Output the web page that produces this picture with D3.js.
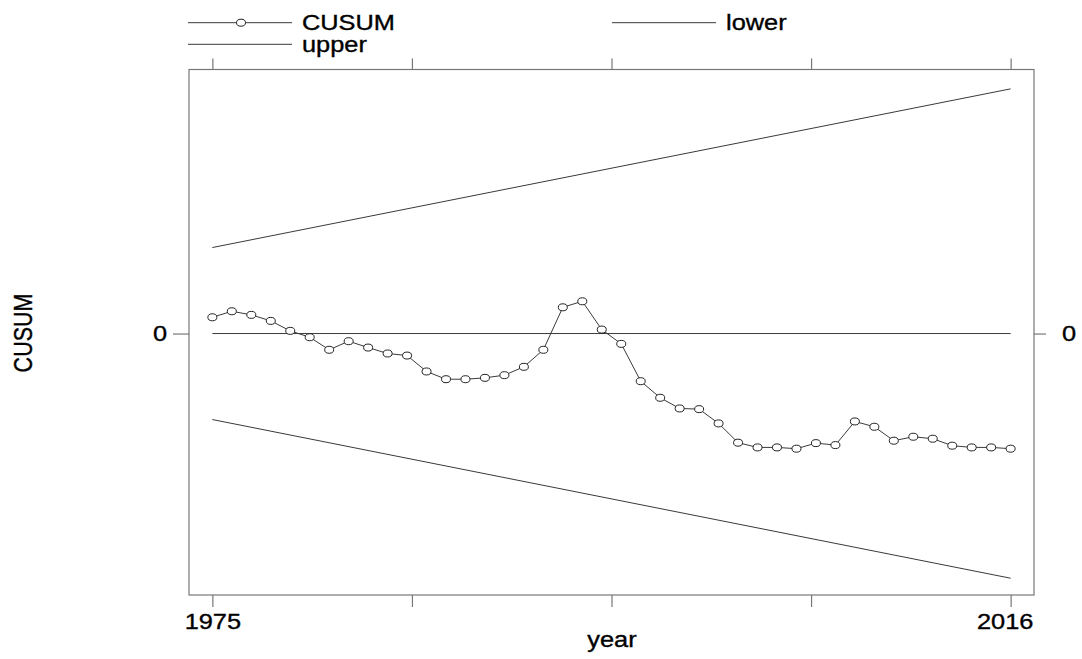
<!DOCTYPE html>
<html>
<head>
<meta charset="utf-8">
<script src="https://cdn.jsdelivr.net/npm/d3@7"></script>
<style>
  body { margin: 0; background: #fff; }
  text { font-family: "Liberation Sans", Arial, sans-serif; fill: #000; stroke: #000; stroke-width: 0.35px; }
</style>
</head>
<body>
<div id="chart"></div>
<script>
var years = d3.range(1975, 2017);
var cusum = [0.189, 0.259, 0.217, 0.147, 0.031, -0.043, -0.189, -0.089, -0.163, -0.232,
             -0.256, -0.441, -0.531, -0.531, -0.515, -0.484, -0.387, -0.189, 0.305, 0.375,
             0.046, -0.120, -0.554, -0.747, -0.871, -0.879, -1.045, -1.269, -1.324, -1.324,
             -1.339, -1.274, -1.297, -1.022, -1.084, -1.246, -1.200, -1.223, -1.304, -1.324,
             -1.324, -1.339];
var boundYears = [1975, 2016];
var upper = [1.0, 2.845];
var lower = [-1.0, -2.845];
var xTickLabels = ["1975", "", "", "", "2016"];

var width = 1082, height = 659;
var sx = 1.18; // text looks horizontally stretched in the original

var svg = d3.select("#chart").append("svg")
    .attr("width", width)
    .attr("height", height);

var x = d3.scaleLinear().domain([1973.8, 2017.2]).range([189, 1034]);
var y = d3.scaleLinear().domain([-3.04, 3.07]).range([595, 69.5]);

var lineCol = "#3a3a3a";
var boxCol = "#777";

// frame
svg.append("rect")
    .attr("x", x.range()[0])
    .attr("y", y.range()[1])
    .attr("width", x.range()[1] - x.range()[0])
    .attr("height", y.range()[0] - y.range()[1])
    .attr("fill", "none")
    .attr("stroke", boxCol)
    .attr("stroke-width", 1.2);

// ticks: 4 equal steps between first and last year
var xTicks = d3.range(5).map(i => 1975 + i * 41 / 4);

var xAxisB = d3.axisBottom(x).tickValues(xTicks).tickSize(12).tickPadding(3)
    .tickFormat((d, i) => xTickLabels[i]);
var xAxisT = d3.axisTop(x).tickValues(xTicks).tickSize(11).tickFormat("");
var yAxisL = d3.axisLeft(y).tickValues([0]).tickSize(16).tickPadding(10).tickFormat(d3.format("d"));
var yAxisR = d3.axisRight(y).tickValues([0]).tickSize(12).tickPadding(14).tickFormat(d3.format("d"));

function styleAxis(g) {
  g.select(".domain").remove();
  g.selectAll(".tick line").attr("stroke", boxCol).attr("stroke-width", 1.2);
  g.selectAll("text").attr("fill", "#000").style("font-size", "21.5px")
    .style("font-family", "'Liberation Sans', Arial, sans-serif");
}

svg.append("g").attr("transform", "translate(0," + y.range()[0] + ")").call(xAxisB).call(styleAxis)
    .selectAll("text")
    .attr("transform", "scale(" + sx + ",1)")
    .attr("x", (d, i) => i === 4 ? -6 / sx : 0)
    .attr("dy", "0.9em");
svg.append("g").attr("transform", "translate(0," + y.range()[1] + ")").call(xAxisT).call(styleAxis);
svg.append("g").attr("transform", "translate(" + x.range()[0] + ",0)").call(yAxisL).call(styleAxis)
    .selectAll("text").attr("transform", "scale(" + sx + ",1)").attr("x", -22 / sx);
svg.append("g").attr("transform", "translate(" + x.range()[1] + ",0)").call(yAxisR).call(styleAxis)
    .selectAll("text").attr("transform", "scale(" + sx + ",1)").attr("x", 28 / sx);

// axis titles
svg.append("text")
    .attr("transform", "translate(612,647) scale(" + sx + ",1)")
    .attr("text-anchor", "middle")
    .style("font-size", "21.5px")
    .text("year");

svg.append("text")
    .attr("transform", "translate(32,333) scale(" + sx + ",1) rotate(-90)")
    .attr("text-anchor", "middle")
    .style("font-size", "21.5px")
    .text("CUSUM");

// zero reference line
svg.append("line")
    .attr("x1", x(1975)).attr("x2", x(2016))
    .attr("y1", y(0)).attr("y2", y(0))
    .attr("stroke", lineCol).attr("stroke-width", 1);

// boundaries
var bline = d3.line().x((d, i) => x(boundYears[i])).y(d => y(d));
svg.append("path").attr("d", bline(upper)).attr("fill", "none").attr("stroke", lineCol).attr("stroke-width", 1);
svg.append("path").attr("d", bline(lower)).attr("fill", "none").attr("stroke", lineCol).attr("stroke-width", 1);

// CUSUM path
var cline = d3.line().x((d, i) => x(years[i])).y(d => y(d));
svg.append("path").attr("d", cline(cusum)).attr("fill", "none").attr("stroke", lineCol).attr("stroke-width", 1);

svg.selectAll(".pt").data(cusum).enter().append("ellipse")
    .attr("class", "pt")
    .attr("cx", (d, i) => x(years[i]))
    .attr("cy", d => y(d))
    .attr("rx", 4.5).attr("ry", 3.5)
    .attr("fill", "#fff")
    .attr("stroke", "#222")
    .attr("stroke-width", 1);

// legend
var legend = [
  {label: "CUSUM", x: 188, y: 22.7, marker: true},
  {label: "upper", x: 188, y: 44.3, marker: false},
  {label: "lower", x: 612, y: 22.7, marker: false}
];
var lg = svg.selectAll(".lg").data(legend).enter().append("g").attr("class", "lg");
lg.append("line")
    .attr("x1", d => d.x).attr("x2", d => d.x + 104)
    .attr("y1", d => d.y).attr("y2", d => d.y)
    .attr("stroke", lineCol).attr("stroke-width", 1);
lg.filter(d => d.marker).append("ellipse")
    .attr("cx", d => d.x + 53).attr("cy", d => d.y)
    .attr("rx", 4.5).attr("ry", 3.5)
    .attr("fill", "#fff").attr("stroke", "#222").attr("stroke-width", 1);
lg.append("text")
    .attr("transform", d => "translate(" + (d.x + 114) + "," + (d.y + 7.5) + ") scale(" + sx + ",1)")
    .style("font-size", "21.5px")
    .text(d => d.label);
</script>
</body>
</html>
